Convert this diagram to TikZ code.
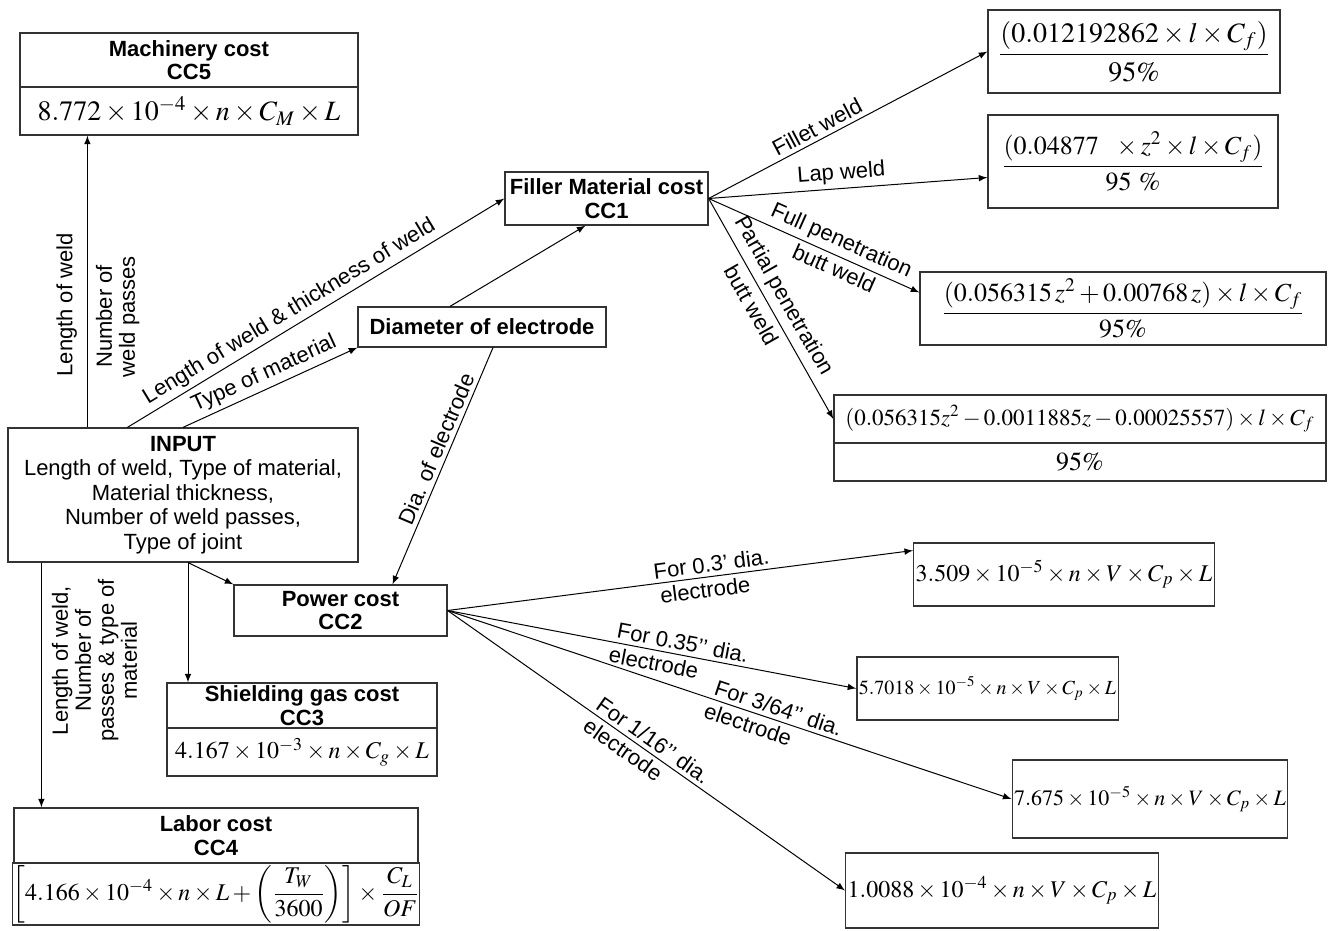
\documentclass[tikz,border=0pt]{standalone}
\usepackage{amsmath}
\usepackage{mathptmx}
\usepackage[no-math]{fontspec}
\setmainfont{Liberation Sans}
\usetikzlibrary{arrows}

\tikzset{
  box/.style={draw=black!80, line width=0.6pt, align=center, inner sep=1pt,
    font=\fontsize{11}{12.3}\selectfont},
  head/.style={box, inner sep=0.5pt, font=\fontsize{11}{11.8}\selectfont\bfseries},
  eqn/.style={box, font=\fontsize{13}{15}\selectfont},
  link/.style={-latex, line width=0.5pt},
  lab/.style={font=\fontsize{11}{11.5}\selectfont, align=center, inner sep=2pt},
  along/.style={lab, sloped},
  vert/.style={lab, rotate=90},
}

\begin{document}
\begin{tikzpicture}[x=0.5pt, y=-0.5pt]
\useasboundingbox (0,0) rectangle (1328,931);
% \draw[step=100, gray, very thin] (0,0) grid (1328,931);

% cost blocks
\node[head, minimum width=169pt, minimum height=27pt] (macht) at (189,60) {Machinery cost\\CC5};
\node[eqn, font=\fontsize{14}{16}\selectfont, minimum width=169pt, minimum height=24pt] (machf) at (189,111)
  {$8.772\times10^{-4}\times n\times C_M\times L$};
\node[head, minimum width=101.5pt, minimum height=26.5pt] (filler) at (606.5,198.5) {Filler Material cost\\CC1};
\node[head, minimum width=124pt, minimum height=20pt] (dia) at (482,327) {Diameter of electrode};
\node[box, minimum width=175pt, minimum height=67pt] (input) at (183,495)
  {\textbf{INPUT}\\Length of weld, Type of material,\\Material thickness,\\Number of weld passes,\\Type of joint};
\node[head, minimum width=106.5pt, minimum height=25.5pt] (power) at (340.5,610.5) {Power cost\\CC2};
\node[head, minimum width=135pt, minimum height=22.5pt] (shieldt) at (302,705.5) {Shielding gas cost\\CC3};
\node[eqn, font=\fontsize{12}{14}\selectfont, inner sep=0pt, minimum width=135pt, minimum height=24pt] (shieldf) at (302,752)
  {$4.167\times10^{-3}\times n\times C_g\times L$};
\node[head, minimum width=202pt, minimum height=27.5pt] (labort) at (216,835.5) {Labor cost\\CC4};
\node[eqn, font=\fontsize{12}{14}\selectfont, inner sep=0pt, minimum width=202pt, minimum height=31pt] (laborf) at (216,894)
  {$\left[4.166\times10^{-4}\times n\times L+\left(\dfrac{T_W}{3600}\right)\right]\times\dfrac{C_L}{OF}$};

% filler material formulas
\node[eqn, font=\fontsize{14}{16}\selectfont, minimum width=146pt, minimum height=41.5pt] (f1) at (1134,51.5)
  {$\dfrac{(0.012192862\times l\times C_f)}{95\%}$};
\node[eqn, font=\fontsize{13}{15}\selectfont, minimum width=145pt, minimum height=46.5pt] (f2) at (1133,161.5)
  {$\dfrac{(0.04877\ \ \times z^2\times l\times C_f)}{95\ \%}$};
\node[eqn, minimum width=203pt, minimum height=36.5pt] (f3) at (1123,308.5)
  {$\dfrac{(0.056315\,z^2+0.00768\,z)\times l\times C_f}{95\%}$};
\node[eqn, font=\fontsize{11.5}{13}\selectfont, inner sep=0pt, minimum width=246pt, minimum height=24pt] (f4t) at (1080,419)
  {$(0.056315z^2-0.0011885z-0.00025557)\times l\times C_f$};
\node[eqn, minimum width=246pt, minimum height=19pt] (f4b) at (1080,462) {$95\%$};

% power formulas
\node[eqn, font=\fontsize{12}{14}\selectfont, minimum width=134pt, minimum height=31.5pt] (p1) at (1064,574.5)
  {$3.509\times10^{-5}\times n\times V\times C_p\times L$};
\node[eqn, font=\fontsize{10}{12}\selectfont, minimum width=124.5pt, minimum height=31.5pt] (p2) at (987.5,688.5)
  {$5.7018\times10^{-5}\times n\times V\times C_p\times L$};
\node[eqn, font=\fontsize{11}{13}\selectfont, minimum width=130pt, minimum height=39pt] (p3) at (1150,799)
  {$7.675\times10^{-5}\times n\times V\times C_p\times L$};
\node[eqn, font=\fontsize{12}{14}\selectfont, minimum width=151pt, minimum height=37.5pt] (p4) at (1002,890.5)
  {$1.0088\times10^{-4}\times n\times V\times C_p\times L$};

% from the input
\coordinate (m0) at ([xshift=40pt]input.north west);
\coordinate (s0) at ([xshift=2.5pt]input.south);
\coordinate (l0) at ([xshift=17pt]input.south west);
\draw[link] (m0) -- (m0 |- machf.south)
  node[vert, pos=0.42, above, inner sep=5pt] {Length of weld}
  node[vert, pos=0.38, below, inner sep=4pt] {Number of\\weld passes};
\draw[link] ([xshift=60pt]input.north west) -- (filler.west)
  node[along, pos=0.45, above] {Length of weld \& thickness of weld};
\draw[link] (input.north) -- (dia.south west) node[along, midway, above] {Type of material};
\draw[link] ([xshift=-16pt]dia.north) -- ([xshift=-10.5pt]filler.south);
\draw[link] ([xshift=5.5pt]dia.south) -- ([xshift=26pt]power.north)
  node[along, pos=0.45, above] {Dia. of electrode};
\draw[link] (s0) -- (power.north west);
\draw[link] (s0) -- (s0 |- shieldt.north);
\draw[link] (l0) -- (l0 |- labort.north)
  node[vert, pos=0.4, below, inner sep=5pt] {Length of weld,\\Number of\\passes \& type of\\material};

% weld types
\draw[link] (filler.east) -- (f1.west) node[along, pos=0.41, above] {Fillet weld};
\draw[link] (filler.east) -- ([yshift=-8pt]f2.west) node[along, pos=0.48, above] {Lap weld};
\draw[link] (filler.east) -- ([yshift=8pt]f3.west)
  node[along, pos=0.6, above] {Full penetration}
  node[along, pos=0.62, below] {butt weld};
\draw[link] (filler.east) -- (f4t.west)
  node[along, pos=0.48, above, inner sep=3pt] {Partial penetration}
  node[along, pos=0.45, below, inner sep=3pt] {butt weld};

% electrode sizes
\draw[link] (power.east) -- ([yshift=12pt]p1.west)
  node[along, pos=0.57, above] {For 0.3’ dia.}
  node[along, pos=0.55, below] {electrode};
\draw[link] (power.east) -- (p2.west)
  node[along, pos=0.57, above] {For 0.35’’ dia.}
  node[along, pos=0.51, below] {electrode};
\draw[link] (power.east) -- (p3.west)
  node[along, pos=0.58, above] {For 3/64’’ dia.}
  node[along, pos=0.54, below] {electrode};
\draw[link] (power.east) -- (p4.west)
  node[along, pos=0.5, above] {For 1/16’’ dia.}
  node[along, pos=0.46, below] {electrode};

\end{tikzpicture}
\end{document}
